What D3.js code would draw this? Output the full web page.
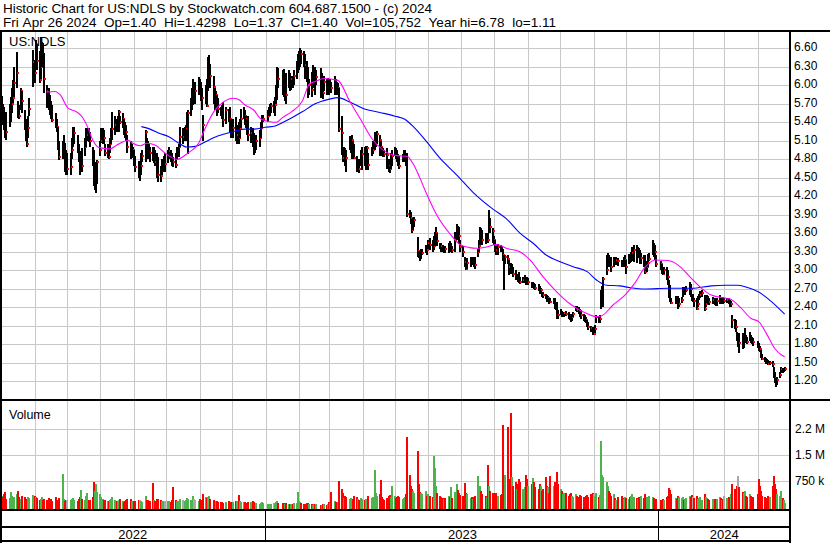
<!DOCTYPE html>
<html><head><meta charset="utf-8">
<script src="https://cdn.jsdelivr.net/npm/d3@7"></script>
<style>
body{margin:0;background:#fff}
svg{display:block}
text{font-family:"Liberation Sans",Arial,sans-serif;fill:#000}
</style>
</head><body>
<svg id="chart" width="830" height="543"></svg>
<script>
// ---------------- DATA ----------------
const headerLines = [
  "Historic Chart for US:NDLS by Stockwatch.com 604.687.1500 - (c) 2024",
  "Fri Apr 26 2024  Op=1.40  Hi=1.4298  Lo=1.37  Cl=1.40  Vol=105,752  Year hi=6.78  lo=1.11"
];
const symbolLabel = "US:NDLS";
const volumeLabel = "Volume";
const firstDay = "2022-05-02", lastDay = "2024-04-26";
const holidays = ["2022-05-30","2022-06-20","2022-07-04","2022-09-05","2022-11-24","2022-12-26",
  "2023-01-02","2023-01-16","2023-02-20","2023-04-07","2023-05-29","2023-06-19","2023-07-04",
  "2023-09-04","2023-11-23","2023-12-25","2024-01-01","2024-01-15","2024-02-19","2024-03-29"];

const closes = [
5.60,5.48,5.40,5.30,5.24,5.45,5.59,5.70,5.79,6.04,6.20,5.55,5.50,5.90,5.75,5.35,5.20,5.05,5.30,5.62,6.38,
6.20,6.55,6.40,6.09,6.30,6.45,6.33,6.10,5.90,5.80,5.70,5.55,5.44,5.40,5.32,5.05,4.83,4.92,4.99,4.80,4.65,
4.65,4.67,4.95,5.10,5.22,5.02,4.85,4.68,4.72,4.70,5.00,5.18,5.20,5.15,5.09,4.90,4.36,4.50,4.60,4.75,
4.95,5.10,5.20,5.15,4.90,4.95,4.84,5.05,5.20,5.29,5.35,5.30,5.40,5.56,5.40,5.45,5.35,5.30,5.25,5.00,4.83,4.90,4.95,
4.80,4.68,4.56,4.56,4.70,4.85,5.25,5.05,5.00,4.95,4.90,4.85,4.92,4.76,4.70,4.55,4.53,4.63,4.70,4.72,4.72,
4.85,4.94,4.88,4.80,4.75,4.71,4.85,4.90,5.00,5.17,5.17,5.25,5.30,5.49,5.55,5.64,5.75,5.90,5.90,5.90,6.02,
6.00,5.90,5.79,5.36,5.85,5.66,6.10,6.29,6.15,5.98,5.80,5.85,5.65,5.62,5.60,5.55,5.43,5.60,5.50,5.45,5.30,
5.25,5.30,5.11,5.20,5.14,5.30,5.45,5.52,5.50,5.45,5.35,5.20,5.22,5.15,5.06,5.00,5.10,5.15,5.30,5.43,5.45,
5.50,5.57,5.62,5.66,5.66,5.68,5.85,6.20,6.10,6.05,5.90,5.95,5.84,6.14,6.03,6.10,6.05,6.15,6.27,6.35,
6.40,6.54,6.50,6.38,6.33,6.20,5.93,6.00,5.92,6.06,6.15,6.05,6.14,5.88,5.95,5.88,6.06,5.95,6.00,
5.92,6.00,5.95,6.06,6.00,5.90,5.95,5.29,5.22,4.82,4.90,4.85,4.82,5.00,5.05,5.11,4.95,4.82,4.68,4.70,4.65,4.84,4.88,
4.84,4.90,4.98,4.71,4.90,4.95,5.07,5.15,5.21,5.11,5.00,4.92,4.90,4.88,4.87,4.70,4.64,4.80,4.85,
4.93,4.90,4.85,4.75,4.69,4.83,4.85,4.87,4.80,3.92,3.90,3.85,3.66,3.75,3.81,3.32,3.25,3.22,3.28,3.29,3.35,3.33,
3.44,3.42,3.38,3.40,3.50,3.60,3.48,3.40,3.39,3.35,3.37,3.34,3.40,3.36,3.38,3.33,3.50,3.71,3.62,3.55,3.38,
3.30,3.14,3.03,3.12,3.16,3.14,3.16,3.12,3.09,3.30,3.40,3.63,3.55,3.50,3.47,3.55,3.50,3.75,3.70,3.64,
3.49,3.40,3.33,3.38,3.35,3.33,3.25,3.19,3.22,3.19,3.05,3.00,3.03,2.95,2.87,2.90,2.88,2.84,2.82,2.84,2.86,2.80,2.79,
2.82,2.76,2.78,2.74,2.72,2.71,2.65,2.68,2.62,2.60,2.57,2.52,2.55,2.50,2.49,2.50,2.42,2.40,2.33,2.27,
2.30,2.28,2.29,2.31,2.30,2.25,2.23,2.19,2.24,2.29,2.41,2.36,2.33,2.30,2.27,2.25,2.22,2.20,2.12,2.09,2.06,1.97,
1.97,2.05,2.25,2.19,2.22,2.60,2.65,2.86,3.00,3.20,3.17,3.10,3.05,3.16,3.12,3.17,3.15,3.12,3.10,3.14,3.17,
3.06,3.19,3.15,3.22,3.28,3.33,3.30,3.33,3.28,3.17,3.20,3.10,2.98,3.05,3.12,3.19,3.38,3.35,3.30,3.11,
3.10,3.02,2.95,3.00,2.98,2.90,2.70,2.52,2.48,2.54,2.50,2.42,2.45,2.52,2.65,2.62,2.66,2.68,2.76,2.70,2.54,
2.54,2.50,2.38,2.45,2.57,2.60,2.63,2.38,2.45,2.55,2.52,2.49,2.52,2.48,2.46,2.50,2.52,2.50,2.52,2.50,
2.50,2.52,2.50,2.44,2.46,2.19,2.12,2.09,1.92,1.92,1.82,1.79,1.85,1.92,1.88,1.84,1.92,1.90,1.86,1.84,
1.80,1.76,1.72,1.62,1.57,1.55,1.53,1.52,1.49,1.50,1.48,1.30,1.25,1.17,1.22,1.30,1.41,1.37,1.38,1.40];

const highs = [
5.82,5.70,5.65,5.55,5.57,5.70,5.81,5.95,6.09,6.30,6.54,5.75,5.68,5.96,5.90,5.60,5.45,5.44,5.50,5.80,6.57,
6.41,6.73,6.65,6.55,6.78,6.70,6.68,6.52,6.00,5.95,5.84,5.75,5.68,5.55,5.45,5.33,5.10,5.10,5.20,5.06,4.95,
4.90,4.90,5.15,5.33,5.33,5.20,5.05,4.94,4.85,4.98,5.15,5.31,5.30,5.30,5.25,5.00,4.95,4.70,4.75,4.79,
5.10,5.31,5.30,5.28,5.05,5.05,5.05,5.15,5.30,5.57,5.50,5.45,5.50,5.60,5.50,5.55,5.45,5.40,5.35,5.20,5.10,5.05,5.00,
4.95,4.85,4.78,4.70,4.90,4.95,5.27,5.15,5.10,5.05,5.00,5.00,5.00,4.95,4.90,4.84,4.70,4.80,4.80,4.85,4.90,
4.95,5.00,4.95,4.90,4.84,4.90,5.00,5.00,5.05,5.33,5.30,5.32,5.35,5.57,5.60,5.80,5.95,6.11,6.00,6.05,6.14,
6.10,6.05,5.95,5.52,6.00,6.10,6.46,6.49,6.35,6.15,5.95,5.90,5.84,5.80,5.65,5.68,5.73,5.65,5.62,5.65,5.45,
5.40,5.45,5.49,5.35,5.40,5.45,5.62,5.65,5.60,5.50,5.45,5.50,5.33,5.30,5.22,5.15,5.20,5.27,5.40,5.52,5.52,
5.60,5.65,5.70,5.72,5.75,5.81,6.00,6.30,6.28,6.25,6.27,6.10,6.20,6.25,6.20,6.15,6.15,6.25,6.40,6.50,
6.55,6.60,6.57,6.55,6.50,6.40,6.30,6.10,6.22,6.33,6.25,6.30,6.25,6.28,6.20,6.10,6.15,6.10,6.12,
6.05,6.10,6.05,6.15,6.10,6.05,6.03,5.95,5.50,5.00,5.00,4.98,4.95,5.18,5.15,5.20,5.10,5.05,4.85,4.80,4.80,4.95,5.00,
5.00,5.02,5.02,4.90,5.00,5.10,5.25,5.25,5.26,5.20,5.10,5.00,4.98,4.95,4.98,4.80,4.70,4.90,4.95,
5.00,4.98,4.95,4.88,4.85,4.88,4.95,4.95,4.90,4.90,3.98,3.95,3.80,3.85,3.86,3.54,3.32,3.30,3.35,3.35,3.42,3.40,
3.50,3.52,3.50,3.55,3.62,3.70,3.60,3.45,3.45,3.42,3.40,3.40,3.45,3.47,3.45,3.40,3.62,3.76,3.72,3.70,3.50,
3.40,3.22,3.12,3.20,3.22,3.20,3.22,3.20,3.22,3.35,3.50,3.71,3.68,3.65,3.60,3.58,3.60,3.98,3.85,3.68,
3.55,3.50,3.40,3.43,3.42,3.40,3.35,3.25,3.25,3.25,3.17,3.12,3.10,3.05,3.00,2.95,2.95,2.98,2.90,2.90,2.92,2.88,2.90,
2.87,2.82,2.82,2.80,2.78,2.78,2.74,2.72,2.65,2.65,2.62,2.60,2.58,2.55,2.55,2.55,2.55,2.48,2.49,2.36,
2.38,2.35,2.32,2.33,2.35,2.33,2.30,2.30,2.28,2.33,2.43,2.42,2.41,2.38,2.36,2.30,2.28,2.24,2.20,2.17,2.10,2.09,
2.07,2.12,2.28,2.25,2.28,2.68,2.75,2.90,3.25,3.28,3.25,3.22,3.22,3.22,3.20,3.22,3.20,3.17,3.15,3.22,3.25,
3.17,3.26,3.25,3.30,3.38,3.41,3.41,3.38,3.36,3.33,3.28,3.25,3.25,3.15,3.27,3.28,3.49,3.45,3.41,3.25,
3.15,3.10,3.05,3.05,3.05,3.00,2.85,2.76,2.55,2.59,2.58,2.59,2.55,2.57,2.73,2.73,2.72,2.75,2.81,2.78,2.62,
2.62,2.55,2.55,2.58,2.62,2.66,2.68,2.60,2.58,2.60,2.58,2.55,2.57,2.55,2.54,2.55,2.60,2.57,2.56,2.57,
2.56,2.56,2.55,2.52,2.50,2.27,2.22,2.20,2.00,1.98,1.98,1.98,1.95,2.06,1.95,1.92,2.00,1.96,1.92,1.90,
1.86,1.82,1.78,1.71,1.65,1.60,1.58,1.56,1.55,1.54,1.53,1.44,1.35,1.25,1.28,1.35,1.44,1.42,1.42,1.4298];

const lows = [
5.48,5.35,5.27,5.15,5.11,5.33,5.40,5.55,5.71,5.81,5.95,5.47,5.45,5.60,5.55,5.27,5.10,5.00,5.15,5.50,5.98,
6.04,6.30,6.25,6.04,6.10,6.30,6.30,5.87,5.63,5.60,5.52,5.45,5.40,5.30,5.25,4.95,4.79,4.80,4.85,4.60,4.55,
4.55,4.55,4.80,5.00,5.05,4.90,4.75,4.55,4.60,4.60,4.85,5.00,5.10,5.08,5.00,4.70,4.36,4.30,4.25,4.40,
4.85,5.07,5.05,5.05,4.85,4.82,4.80,4.90,5.05,5.11,5.20,5.25,5.25,5.25,5.38,5.30,5.20,5.15,5.10,4.90,4.80,4.82,4.85,
4.70,4.60,4.50,4.45,4.55,4.75,4.76,4.90,4.80,4.85,4.75,4.78,4.74,4.70,4.50,4.44,4.44,4.55,4.60,4.65,4.60,
4.74,4.80,4.75,4.70,4.68,4.66,4.80,4.84,4.84,5.00,5.05,5.10,5.10,5.30,4.88,5.50,5.60,5.68,5.75,5.70,5.84,
5.85,5.75,5.60,5.09,5.70,5.65,5.90,5.98,5.95,5.70,5.60,5.60,5.50,5.55,5.50,5.45,5.33,5.38,5.40,5.25,5.15,
5.15,5.15,5.09,5.05,5.05,5.15,5.30,5.45,5.35,5.30,5.20,5.10,5.06,5.00,4.87,4.90,4.95,5.00,5.15,5.30,5.40,
5.40,5.50,5.50,5.55,5.55,5.50,5.70,5.76,5.95,5.85,5.81,5.75,5.70,5.95,5.90,5.92,5.95,6.00,6.10,6.20,
6.25,6.30,6.35,6.30,6.10,6.05,5.80,5.85,5.81,5.98,5.95,5.85,6.00,5.80,5.85,5.78,5.90,5.85,5.90,
5.85,5.90,5.88,5.85,5.92,5.85,5.88,5.25,4.87,4.75,4.85,4.70,4.60,4.95,4.90,4.80,4.85,4.80,4.60,4.62,4.58,4.70,4.62,
4.70,4.62,4.88,4.62,4.85,4.88,4.95,5.00,5.05,4.85,4.90,4.85,4.84,4.84,4.65,4.60,4.58,4.65,4.70,
4.85,4.80,4.75,4.70,4.65,4.75,4.75,4.78,4.70,3.87,3.85,3.75,3.60,3.65,3.70,3.22,3.20,3.15,3.18,3.25,3.28,3.25,
3.35,3.33,3.30,3.33,3.40,3.45,3.40,3.35,3.30,3.30,3.28,3.28,3.28,3.30,3.30,3.28,3.30,3.49,3.50,3.45,3.30,
3.22,3.06,3.00,3.03,3.05,3.08,3.10,3.05,3.03,3.22,3.30,3.41,3.45,3.41,3.43,3.45,3.45,3.60,3.60,3.45,
3.41,3.30,3.25,3.25,3.30,3.30,3.15,2.68,3.10,3.10,2.92,2.95,2.95,2.90,2.84,2.84,2.82,2.80,2.78,2.80,2.80,2.76,2.76,
2.77,2.72,2.72,2.70,2.68,2.66,2.62,2.62,2.57,2.56,2.54,2.49,2.50,2.46,2.47,2.45,2.38,2.36,2.22,2.22,
2.27,2.25,2.24,2.25,2.26,2.22,2.20,2.17,2.18,2.25,2.35,2.32,2.30,2.25,2.22,2.18,2.16,2.14,2.08,2.03,2.00,1.95,
1.95,1.98,2.15,2.15,2.15,2.38,2.55,2.41,2.92,3.05,3.10,3.05,2.98,3.05,3.08,3.08,3.07,3.05,3.07,3.05,3.10,
2.95,3.10,3.12,3.14,3.15,3.14,3.12,3.28,3.20,3.10,3.10,3.05,2.95,2.98,3.05,3.15,3.25,3.22,3.17,3.05,
3.00,2.95,2.92,2.95,2.85,2.76,2.55,2.49,2.46,2.46,2.45,2.38,2.40,2.47,2.57,2.60,2.60,2.65,2.60,2.57,2.50,
2.49,2.41,2.36,2.40,2.52,2.55,2.57,2.35,2.40,2.47,2.46,2.44,2.46,2.44,2.43,2.43,2.46,2.46,2.47,2.46,
2.48,2.48,2.46,2.41,2.40,2.06,2.05,2.00,1.85,1.76,1.66,1.72,1.75,1.82,1.82,1.80,1.85,1.82,1.80,1.78,
1.75,1.70,1.68,1.58,1.55,1.52,1.48,1.48,1.47,1.46,1.44,1.25,1.17,1.11,1.15,1.25,1.33,1.33,1.35,1.37];

// daily volume, thousands of shares
const volumes = [
310,280,360,430,220,250,410,300,190,260,350,440,280,230,300,270,210,180,260,240,320,
300,280,250,200,230,260,180,220,200,240,190,210,170,260,150,180,240,950,220,160,190,
180,200,230,250,190,170,210,260,480,220,190,300,380,200,180,260,720,450,650,420,
350,280,220,200,180,150,170,190,230,260,200,170,150,180,210,160,140,170,190,210,230,160,150,
170,160,200,180,150,140,290,200,180,160,150,680,190,170,210,230,180,150,160,140,170,
150,160,140,180,570,200,170,150,160,230,180,160,200,250,220,190,170,300,210,180,160,
220,180,200,350,260,240,280,300,220,180,160,150,170,140,130,120,100,130,150,120,140,
140,130,150,160,330,150,140,120,130,110,100,120,140,160,130,110,90,80,100,120,110,
70,60,80,70,90,100,120,160,110,90,100,80,90,70,60,80,70,90,100,430,
150,120,90,80,70,90,110,80,60,50,70,60,80,50,40,60,70,50,60,
120,100,430,150,130,140,120,750,500,380,250,300,280,220,250,200,230,300,260,210,190,240,220,
200,220,180,300,250,280,1060,400,300,350,760,280,220,200,240,300,330,280,600,
300,250,280,310,260,220,240,280,350,2000,900,600,500,450,400,1600,650,420,380,350,450,300,
350,300,280,1470,1100,600,400,300,280,250,220,240,300,260,560,240,420,650,480,380,330,
300,670,400,350,250,280,220,260,300,870,500,600,450,350,300,280,1200,600,450,380,
400,350,380,300,320,350,2350,700,900,2300,800,2700,850,600,700,500,650,800,720,500,550,900,780,
600,650,820,700,550,500,650,600,450,500,850,600,550,400,880,600,700,500,1000,650,
500,450,350,400,380,300,350,400,300,280,350,300,260,320,300,280,250,300,320,280,350,400,
350,300,400,280,320,1900,900,850,700,600,450,380,300,350,250,200,280,300,250,220,260,
250,220,280,300,350,260,240,220,280,200,300,250,350,280,220,300,260,240,200,220,
200,180,220,190,260,300,520,480,350,250,220,300,260,240,280,200,220,250,300,260,320,
280,250,300,220,240,260,200,350,280,240,220,200,230,210,190,220,260,240,200,210,
300,250,280,260,350,650,500,450,600,880,550,420,380,450,300,280,350,300,250,270,
350,790,600,450,300,280,250,220,300,260,600,880,650,500,350,300,450,250,200,106];

// short moving average (magenta)
const maShortDates = ["2022-06-12","2022-06-20","2022-06-25","2022-07-02","2022-07-10","2022-07-15","2022-07-20","2022-07-25","2022-07-31","2022-08-10","2022-08-16","2022-08-27","2022-08-31","2022-09-07","2022-09-13","2022-09-21","2022-09-30","2022-10-11","2022-10-21","2022-10-31","2022-11-06","2022-11-14","2022-11-23","2022-12-02","2022-12-07","2022-12-13","2022-12-21","2022-12-28","2023-01-05","2023-01-11","2023-01-17","2023-01-25","2023-02-04","2023-02-11","2023-02-16","2023-02-24","2023-03-09","2023-03-20","2023-03-31","2023-04-09","2023-04-20","2023-05-03","2023-05-12","2023-05-18","2023-05-24","2023-05-30","2023-06-08","2023-06-21","2023-06-30","2023-07-09","2023-07-16","2023-07-25","2023-08-03","2023-08-12","2023-08-25","2023-09-03","2023-09-15","2023-09-28","2023-10-10","2023-10-22","2023-11-04","2023-11-08","2023-11-19","2023-11-30","2023-12-09","2023-12-19","2023-12-28","2024-01-09","2024-01-18","2024-01-29","2024-02-09","2024-02-18","2024-02-28","2024-03-06","2024-03-16","2024-03-26","2024-04-02","2024-04-09","2024-04-17","2024-04-23","2024-04-26"];
const maShortValues = [5.89,5.90,5.84,5.63,5.57,5.49,5.33,5.11,4.99,4.97,5.03,5.11,5.06,5.02,5.06,5.03,4.90,4.80,4.90,5.06,5.30,5.57,5.73,5.79,5.77,5.68,5.60,5.45,5.41,5.40,5.48,5.57,5.74,6.03,6.06,6.11,6.08,5.74,5.42,5.15,4.95,4.86,4.85,4.72,4.50,4.25,3.92,3.59,3.42,3.37,3.36,3.38,3.42,3.36,3.30,3.17,2.90,2.65,2.46,2.33,2.25,2.26,2.44,2.60,2.79,3.06,3.17,3.16,3.09,2.90,2.71,2.60,2.56,2.54,2.40,2.22,2.17,1.98,1.73,1.63,1.60];

// long moving average (blue)
const maLongDates = ["2022-09-08","2022-09-16","2022-09-25","2022-10-03","2022-10-12","2022-10-20","2022-10-28","2022-11-06","2022-11-15","2022-11-24","2022-12-04","2022-12-13","2022-12-22","2023-01-01","2023-01-10","2023-01-16","2023-01-25","2023-02-04","2023-02-16","2023-03-02","2023-03-09","2023-03-20","2023-04-02","2023-04-17","2023-05-01","2023-05-10","2023-05-18","2023-05-30","2023-06-12","2023-06-27","2023-07-12","2023-07-31","2023-08-12","2023-08-25","2023-09-06","2023-09-18","2023-10-01","2023-10-13","2023-10-26","2023-11-04","2023-11-13","2023-11-25","2023-12-05","2023-12-19","2024-01-09","2024-01-31","2024-02-18","2024-03-02","2024-03-14","2024-03-23","2024-04-02","2024-04-14","2024-04-26"];
const maLongValues = [5.33,5.29,5.22,5.17,5.07,5.00,5.01,5.08,5.16,5.21,5.26,5.29,5.29,5.32,5.34,5.39,5.47,5.57,5.70,5.78,5.80,5.73,5.62,5.56,5.50,5.45,5.33,5.09,4.81,4.55,4.27,3.99,3.84,3.60,3.44,3.25,3.14,3.06,2.98,2.84,2.76,2.75,2.72,2.70,2.71,2.71,2.75,2.76,2.76,2.72,2.65,2.49,2.29];

const priceTicks = [6.60,6.30,6.00,5.70,5.40,5.10,4.80,4.50,4.20,3.90,3.60,3.30,3.00,2.70,2.40,2.10,1.80,1.50,1.20];
const volumeTicks = [750000,1500000,2250000];
const volumeTickLabels = ["750 k","1.5 M","2.2 M"];
const yearLabels = ["2022","2023","2024"];

// ---------------- CHART ----------------
const parse = d3.utcParse("%Y-%m-%d");
const fmt = d3.utcFormat("%Y-%m-%d");
const holidaySet = new Set(holidays);
const dates = d3.utcDay.range(parse(firstDay), d3.utcDay.offset(parse(lastDay), 1))
  .filter(d => d.getUTCDay() > 0 && d.getUTCDay() < 6 && !holidaySet.has(fmt(d)));
if (dates.length !== closes.length || highs.length !== closes.length || lows.length !== closes.length || volumes.length !== closes.length) {
  throw new Error("length mismatch dates=" + dates.length + " c=" + closes.length + " h=" + highs.length + " l=" + lows.length + " v=" + volumes.length);
}
const bars = dates.map((d, i) => ({date: d, c: closes[i], h: highs[i], l: lows[i], v: volumes[i] * 1000,
  dir: i === 0 ? 1 : Math.sign(closes[i] - closes[i - 1])}));

const W = 830, plotR = 789;
const priceTop = 31, priceBot = 400, volTop = 401, volBot = 509;
const x = d3.scaleUtc().domain([parse("2022-04-30"), parse("2024-04-30")]).range([0, plotR]);
const y = d3.scaleLinear().domain([0.9, 6.88]).range([priceBot, priceTop]);
const yv = d3.scaleLinear().domain([0, 2250000]).range([506.5, 428.5]);

const svg = d3.select("#chart");
const gridColor = "#c8c8c8";

// header (two spaces kept between fields)
const headerWidths = [429, 553];
svg.append("g").selectAll("text").data(headerLines).join("text")
  .attr("x", 3).attr("y", (d, i) => 13 + i * 13.5)
  .attr("font-size", 13.5)
  .attr("textLength", (d, i) => headerWidths[i]).attr("lengthAdjust", "spacing")
  .text(d => d.replace(/ /g, "\u00a0"));

// clip paths
const defs = svg.append("defs");
defs.append("clipPath").attr("id", "cp").append("rect")
  .attr("x", 0).attr("y", priceTop).attr("width", plotR).attr("height", priceBot - priceTop);
defs.append("clipPath").attr("id", "cv").append("rect")
  .attr("x", 0).attr("y", volTop).attr("width", plotR).attr("height", volBot - volTop);

const months = x.ticks(d3.utcMonth.every(1));

// price grid
const gp = svg.append("g").attr("clip-path", "url(#cp)").attr("shape-rendering", "crispEdges");
gp.selectAll("line.h").data(priceTicks).join("line")
  .attr("x1", 0).attr("x2", plotR).attr("y1", d => Math.round(y(d)) + 0.5).attr("y2", d => Math.round(y(d)) + 0.5)
  .attr("stroke", gridColor);
gp.selectAll("line.v").data(months).join("line")
  .attr("y1", priceTop).attr("y2", priceBot).attr("x1", d => Math.round(x(d)) + 0.5).attr("x2", d => Math.round(x(d)) + 0.5)
  .attr("stroke", gridColor);

// volume grid
const gv = svg.append("g").attr("clip-path", "url(#cv)").attr("shape-rendering", "crispEdges");
gv.selectAll("line.h").data(volumeTicks).join("line")
  .attr("x1", 0).attr("x2", plotR).attr("y1", d => Math.round(yv(d)) + 0.5).attr("y2", d => Math.round(yv(d)) + 0.5)
  .attr("stroke", gridColor);
gv.selectAll("line.v").data(months).join("line")
  .attr("y1", volTop).attr("y2", volBot).attr("x1", d => Math.round(x(d)) + 0.5).attr("x2", d => Math.round(x(d)) + 0.5)
  .attr("stroke", gridColor);

// volume bars
gv.append("g").selectAll("rect").data(bars).join("rect")
  .attr("x", d => Math.round(x(d.date)) - 1).attr("width", 2)
  .attr("y", d => Math.round(yv(d.v))).attr("height", d => volBot - Math.round(yv(d.v)))
  .attr("fill", d => d.dir > 0 ? "#4db34d" : d.dir < 0 ? "#ff0000" : "#a8a8a8");

// price bars: each bar is a black high-low stroke with a red close tick on its right side
const barG = gp.append("g").selectAll("g").data(bars).join("g");
barG.append("rect")
  .attr("x", d => Math.round(x(d.date)) - 1).attr("width", 2)
  .attr("y", d => Math.round(y(d.h))).attr("height", d => Math.max(1, Math.round(y(d.l)) - Math.round(y(d.h))))
  .attr("fill", "#000");
barG.append("rect")
  .attr("x", d => Math.round(x(d.date))).attr("width", 2)
  .attr("y", d => Math.round(y(d.c)) - 1).attr("height", 2)
  .attr("fill", "#ff0000");

// moving averages
const maLine = d3.line().x(d => x(d[0])).y(d => y(d[1])).curve(d3.curveMonotoneX);
const gm = svg.append("g").attr("clip-path", "url(#cp)");
gm.append("path").datum(maLongDates.map((d, i) => [parse(d), maLongValues[i]]))
  .attr("d", maLine).attr("fill", "none").attr("stroke", "#0000ff").attr("stroke-width", 1.1);
gm.append("path").datum(maShortDates.map((d, i) => [parse(d), maShortValues[i]]))
  .attr("d", maLine).attr("fill", "none").attr("stroke", "#ff00ff").attr("stroke-width", 1.1);

// panel labels
svg.append("text").attr("x", 9).attr("y", 46).attr("font-size", 13).text(symbolLabel);
svg.append("text").attr("x", 9).attr("y", 418.5).attr("font-size", 12.5).text(volumeLabel);

// right axis labels
svg.append("g").selectAll("text").data(priceTicks).join("text")
  .attr("x", 794).attr("y", d => y(d) + 2.8).attr("font-size", 12)
  .text(d => d3.format(".2f")(d));
svg.append("g").selectAll("text").data(volumeTicks).join("text")
  .attr("x", 795).attr("y", d => yv(d) + 4.3).attr("font-size", 12)
  .text((d, i) => volumeTickLabels[i]);

// frame lines
const frame = svg.append("g").attr("fill", "#000").attr("shape-rendering", "crispEdges");
frame.append("rect").attr("x", 0).attr("y", 30).attr("width", W).attr("height", 2);
frame.append("rect").attr("x", 0).attr("y", 30).attr("width", 2).attr("height", 513);
frame.append("rect").attr("x", plotR - 0.5).attr("y", 30).attr("width", 2.5).attr("height", 513);
frame.append("rect").attr("x", 0).attr("y", 399).attr("width", W).attr("height", 2);
frame.append("rect").attr("x", 0).attr("y", 509).attr("width", plotR).attr("height", 2);
frame.append("rect").attr("x", 0).attr("y", 526).attr("width", plotR).attr("height", 2);
frame.append("rect").attr("x", 0).attr("y", 540).attr("width", plotR).attr("height", 2);

// year separators and labels
const years = [parse("2022-04-30"), parse("2023-01-01"), parse("2024-01-01"), parse("2024-04-30")];
frame.selectAll("rect.sep").data(years.slice(1, 3)).join("rect")
  .attr("x", d => Math.round(x(d)) - 1).attr("y", 510).attr("width", 1.3).attr("height", 31);
svg.append("g").selectAll("text").data(yearLabels).join("text")
  .attr("x", (d, i) => (x(years[i]) + x(years[i + 1])) / 2).attr("y", 539)
  .attr("text-anchor", "middle").attr("font-size", 13).text(d => d);
</script>
</body></html>
